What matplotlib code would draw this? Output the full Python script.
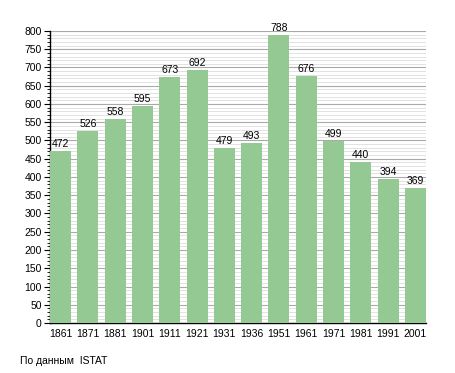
import matplotlib
matplotlib.use("Agg")
import matplotlib.pyplot as plt
from matplotlib.ticker import MultipleLocator

# population by census year
years = ["1861", "1871", "1881", "1901", "1911", "1921", "1931",
         "1936", "1951", "1961", "1971", "1981", "1991", "2001"]
population = [472, 526, 558, 595, 673, 692, 479, 493, 788, 676, 499, 440, 394, 369]

plt.rcParams['font.family'] = ['Liberation Sans', 'DejaVu Sans']

fig = plt.figure(figsize=(4.55, 3.73), dpi=100)
ax = fig.add_axes([0.110, 0.134, 0.826, 0.783])

w = 0.77
x = range(len(years))
ax.bar(x, population, width=w, color='#94c994', zorder=3)
for xi, v in zip(x, population):
    ax.text(xi, v + 6, str(v), ha='center', va='bottom', fontsize=7.5, zorder=4)

ax.set_xlim(-w / 2, len(years) - 1 + w / 2)
ax.set_ylim(0, 800)
ax.set_xticks(list(x))
ax.set_xticklabels(years, fontsize=7.5)
ax.tick_params(axis='x', length=0, pad=4)

ax.yaxis.set_major_locator(MultipleLocator(50))
ax.yaxis.set_minor_locator(MultipleLocator(10))
ax.tick_params(axis='y', which='major', length=4, width=0.8, labelsize=7.5, pad=2)
ax.tick_params(axis='y', which='minor', length=2, width=0.6)
ax.grid(axis='y', which='major', color='#aaaaaa', linewidth=0.8, zorder=0)
ax.grid(axis='y', which='minor', color='#dddddd', linewidth=0.6, zorder=0)

for s in ('top', 'right'):
    ax.spines[s].set_visible(False)
ax.spines['left'].set_linewidth(1.0)
ax.spines['bottom'].set_linewidth(1.0)

fig.text(20 / 455, 1 - 361 / 373, "По данным  ISTAT", fontsize=7.5, va='center', ha='left')

fig.savefig("out.png", dpi=100)
